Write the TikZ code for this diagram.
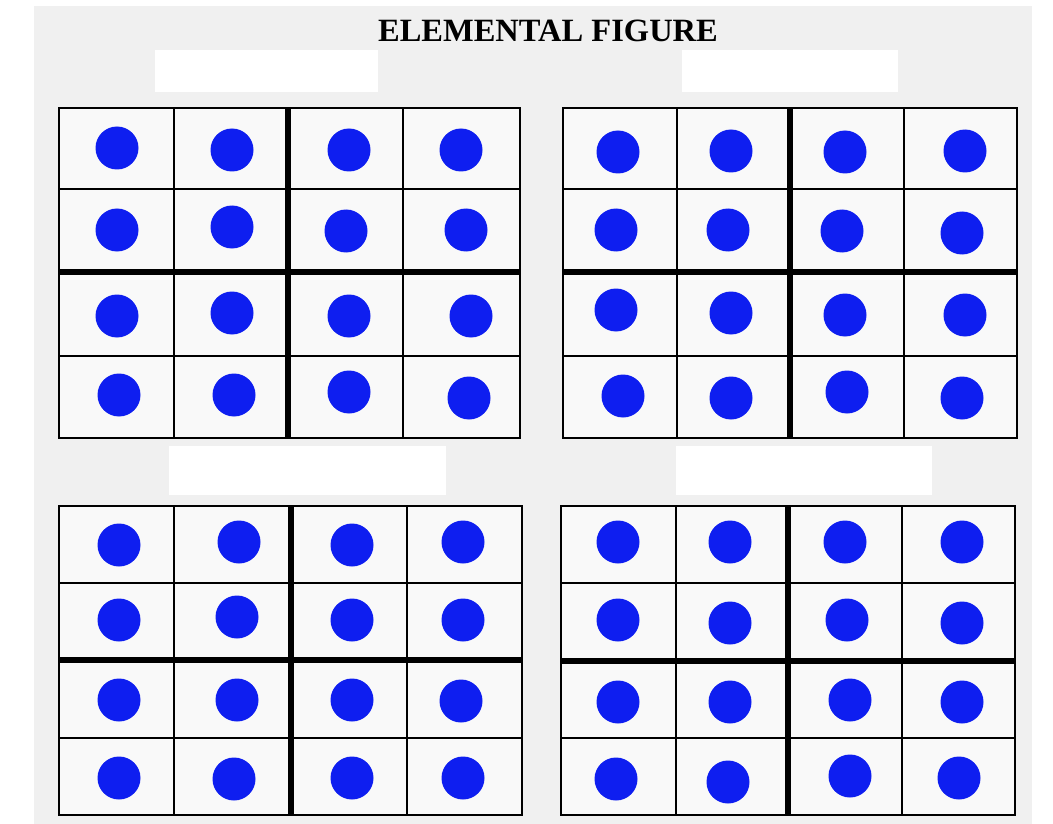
\documentclass[tikz,border=0pt]{standalone}
\usepackage{fontspec}
\setmainfont{Liberation Serif}
\definecolor{dotblue}{RGB}{14,30,240}
\definecolor{bgtex}{RGB}{240,240,240}
\definecolor{cellbg}{RGB}{249,249,249}
\tikzset{
  dot/.style={circle,fill=dotblue,draw=none,inner sep=0pt,minimum size=43pt},
  thinline/.style={line width=1.8pt,black},
  thickline/.style={line width=6.5pt,black},
  blankpatch/.style={fill=white,draw=none},
}
\begin{document}
\begin{tikzpicture}[x=1pt,y=-1pt]
\useasboundingbox (0,0) rectangle (1053,824);
\fill[white] (0,0) rectangle (1053,824);
\fill[bgtex] (34,6) rectangle (1032,824);
% blank label patches
\fill[blankpatch] (155,50) rectangle (378,92);
\fill[blankpatch] (682,50) rectangle (898,92);
\fill[blankpatch] (169,446) rectangle (446,495);
\fill[blankpatch] (676,446) rectangle (932,495);
% title
\node[font=\bfseries\fontsize{32.5}{36}\selectfont] (title) at (548,31) {ELEMENTAL FIGURE};
% grid 1
\fill[cellbg] (59,108) rectangle (520,438);
\draw[thinline] (174,108) -- (174,438) (403,108) -- (403,438)
  (59,189) -- (520,189) (59,356) -- (520,356);
\draw[thickline] (288,108) -- (288,438) (59,272) -- (520,272);
\draw[line width=2pt] (59,108) rectangle (520,438);
% grid 2
\fill[cellbg] (563,108) rectangle (1017,438);
\draw[thinline] (677,108) -- (677,438) (904,108) -- (904,438)
  (563,189) -- (1017,189) (563,356) -- (1017,356);
\draw[thickline] (790,108) -- (790,438) (563,272) -- (1017,272);
\draw[line width=2pt] (563,108) rectangle (1017,438);
% grid 3
\fill[cellbg] (59,506) rectangle (522,815);
\draw[thinline] (174,506) -- (174,815) (407,506) -- (407,815)
  (59,583) -- (522,583) (59,738) -- (522,738);
\draw[thickline] (291,506) -- (291,815) (59,660) -- (522,660);
\draw[line width=2pt] (59,506) rectangle (522,815);
% grid 4
\fill[cellbg] (561,506) rectangle (1015,815);
\draw[thinline] (676,506) -- (676,815) (902,506) -- (902,815)
  (561,583) -- (1015,583) (561,738) -- (1015,738);
\draw[thickline] (788,506) -- (788,815) (561,661) -- (1015,661);
\draw[line width=2pt] (561,506) rectangle (1015,815);
% dots grid 1
\node[dot] (a11) at (117,148) {};
\node[dot] (a12) at (232,150) {};
\node[dot] (a13) at (349,150) {};
\node[dot] (a14) at (461,150) {};
\node[dot] (a21) at (117,230) {};
\node[dot] (a22) at (232,227) {};
\node[dot] (a23) at (346,231) {};
\node[dot] (a24) at (466,230) {};
\node[dot] (a31) at (117,316) {};
\node[dot] (a32) at (232,313) {};
\node[dot] (a33) at (349,316) {};
\node[dot] (a34) at (471,316) {};
\node[dot] (a41) at (119,395) {};
\node[dot] (a42) at (234,395) {};
\node[dot] (a43) at (349,392) {};
\node[dot] (a44) at (469,398) {};
% dots grid 2
\node[dot] (b11) at (618,152) {};
\node[dot] (b12) at (731,151) {};
\node[dot] (b13) at (845,152) {};
\node[dot] (b14) at (965,151) {};
\node[dot] (b21) at (616,230) {};
\node[dot] (b22) at (728,230) {};
\node[dot] (b23) at (842,231) {};
\node[dot] (b24) at (962,233) {};
\node[dot] (b31) at (616,310) {};
\node[dot] (b32) at (731,313) {};
\node[dot] (b33) at (845,315) {};
\node[dot] (b34) at (965,315) {};
\node[dot] (b41) at (623,396) {};
\node[dot] (b42) at (731,398) {};
\node[dot] (b43) at (847,392) {};
\node[dot] (b44) at (962,398) {};
% dots grid 3
\node[dot] (c11) at (119,545) {};
\node[dot] (c12) at (239,542) {};
\node[dot] (c13) at (352,545) {};
\node[dot] (c14) at (463,542) {};
\node[dot] (c21) at (119,620) {};
\node[dot] (c22) at (237,617) {};
\node[dot] (c23) at (352,620) {};
\node[dot] (c24) at (463,620) {};
\node[dot] (c31) at (119,700) {};
\node[dot] (c32) at (237,700) {};
\node[dot] (c33) at (352,700) {};
\node[dot] (c34) at (461,701) {};
\node[dot] (c41) at (119,778) {};
\node[dot] (c42) at (234,779) {};
\node[dot] (c43) at (352,778) {};
\node[dot] (c44) at (463,778) {};
% dots grid 4
\node[dot] (d11) at (618,542) {};
\node[dot] (d12) at (730,542) {};
\node[dot] (d13) at (845,542) {};
\node[dot] (d14) at (962,542) {};
\node[dot] (d21) at (618,620) {};
\node[dot] (d22) at (730,623) {};
\node[dot] (d23) at (847,620) {};
\node[dot] (d24) at (962,623) {};
\node[dot] (d31) at (618,702) {};
\node[dot] (d32) at (730,702) {};
\node[dot] (d33) at (850,700) {};
\node[dot] (d34) at (962,702) {};
\node[dot] (d41) at (616,779) {};
\node[dot] (d42) at (728,782) {};
\node[dot] (d43) at (850,776) {};
\node[dot] (d44) at (959,778) {};
\end{tikzpicture}
\end{document}
